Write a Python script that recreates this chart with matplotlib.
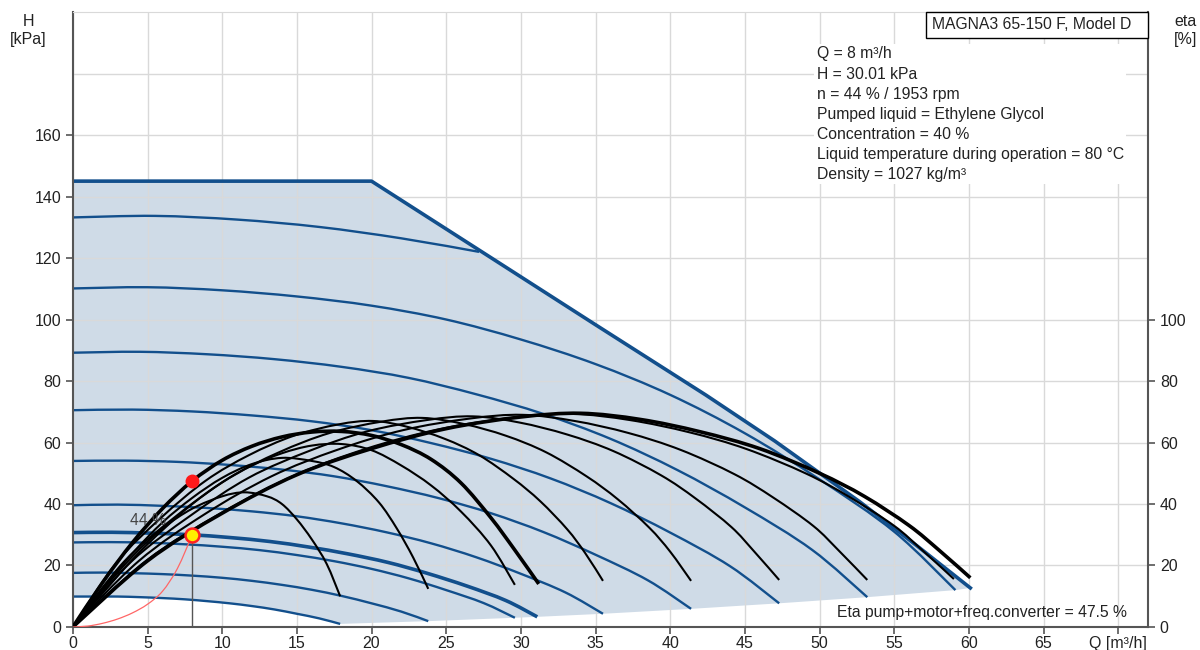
import matplotlib
matplotlib.use("Agg")
import matplotlib.pyplot as plt
from matplotlib.patches import Rectangle, PathPatch
from matplotlib.path import Path

plt.rcParams['font.family'] = ['Liberation Sans', 'DejaVu Sans']

# pump speed curves (H in kPa), lowest to highest speed
speed_q = [
    [0, 1.5, 3, 4.5, 6, 7.5, 9, 10.5, 12, 13.5, 15, 16.5, 17.9],
    [0, 2, 4, 6, 8, 10, 12, 14, 16, 18, 20, 22, 23.8],
    [0, 2.5, 5, 7.5, 10, 12.5, 15, 17.5, 20, 22.5, 25, 27.5, 29.6],
    [0, 2.6, 5.3, 7.9, 10.5, 13.2, 15.8, 18.4, 21.1, 23.7, 26.4, 29.0, 31.1],
    [0, 3, 6, 9, 12, 15, 18, 21, 24, 27, 30, 33, 35.5],
    [0, 3.5, 7, 10.5, 14, 17.5, 21, 24.5, 28, 31.5, 35, 38.5, 41.4],
    [0, 4, 8, 12, 16, 20, 24, 28, 32, 36, 40, 44, 47.3],
    [0, 4.5, 9, 13.5, 18, 22.5, 27, 31.5, 36, 40.5, 45, 49.5, 53.2],
    [0, 5, 10, 15, 20, 25, 30, 35, 40, 45, 50, 55, 59.1],
    [0, 5.5, 11, 16.5, 22, 27.2],
]
speed_h = [
    [9.9, 9.9, 9.9, 9.7, 9.4, 9.0, 8.4, 7.7, 6.8, 5.7, 4.3, 2.8, 1.0],
    [17.6, 17.7, 17.5, 17.2, 16.7, 16.0, 15.0, 13.7, 12.1, 10.1, 7.7, 5.0, 1.9],
    [27.5, 27.6, 27.4, 26.9, 26.1, 25.0, 23.4, 21.4, 18.9, 15.8, 12.0, 7.8, 3.0],
    [30.7, 30.8, 30.5, 30.0, 29.1, 27.8, 26.0, 23.8, 21.0, 17.5, 13.3, 8.6, 3.3],
    [39.6, 39.8, 39.4, 38.7, 37.6, 36.0, 33.7, 30.8, 27.2, 22.7, 17.3, 11.2, 4.3],
    [54.0, 54.1, 53.7, 52.7, 51.2, 49.0, 45.8, 41.9, 37.0, 30.9, 23.5, 15.2, 5.9],
    [70.5, 70.7, 70.1, 68.8, 66.9, 64.0, 59.8, 54.7, 48.3, 40.3, 30.7, 19.8, 7.7],
    [89.2, 89.5, 88.7, 87.1, 84.6, 81.0, 75.7, 69.3, 61.2, 51.0, 38.9, 25.1, 9.7],
    [110.1, 110.5, 109.5, 107.5, 104.5, 100.0, 93.5, 85.5, 75.5, 63.0, 48.0, 31.0, 12.0],
    [133.2, 133.7, 132.5, 130.1, 126.4, 122.0],
]
duty_curve = 3  # the 44 % curve

# max envelope
max_q = [0, 20, 27.2, 35, 42.4, 47, 52.7, 56.5, 60.1]
max_h = [145, 145, 122.6, 98.3, 75.4, 60.5, 40.7, 26.5, 12.7]

# efficiency curves (eta %), matching the speed curves + max curve
eta_q = [
    [0, 2, 4, 6, 8, 10, 11.5, 13, 14, 15, 16, 17, 17.9],
    [0, 2, 4, 6, 8, 10, 12, 14, 16, 17.5, 19, 20.5, 21.7, 22.8, 23.8],
    [0, 2, 4, 6, 8, 10, 12, 14, 16, 18, 20, 22, 24, 26, 28, 29.6],
    [0, 2, 4, 6, 8, 10, 12, 14, 16, 18, 20, 22, 24, 26, 28, 29.6, 31.2],
    [0, 2.9, 5.9, 8.9, 11.8, 14.8, 17.8, 20.1, 22.4, 24.9, 27.2, 29.5, 31.3, 33.1, 34.3, 35.5],
    [0, 3.4, 6.9, 10.4, 13.8, 17.2, 20.7, 23.4, 26.2, 29.0, 31.7, 34.4, 36.5, 38.6, 40.0, 41.4],
    [0, 3.9, 7.9, 11.8, 15.8, 19.7, 23.7, 26.8, 29.9, 33.1, 36.2, 39.4, 41.7, 44.1, 45.6, 47.3],
    [0, 4.4, 8.8, 13.3, 17.7, 22.1, 26.6, 30.1, 33.6, 37.2, 40.7, 44.3, 46.9, 49.6, 51.3, 53.2],
    [0, 4.9, 9.8, 14.8, 19.6, 24.5, 29.5, 33.4, 37.3, 41.3, 45.1, 49.1, 52.0, 55.0, 56.9, 59.0],
    [0, 5, 10, 15, 20, 25, 30, 34, 38, 42, 46, 50, 53, 56, 58, 60.1],
]
eta_v = [
    [0, 12, 23, 32, 38.5, 42.5, 43.8, 42.5, 40, 35, 28.5, 20.5, 10],
    [0, 12.5, 24, 34, 42, 48.5, 53, 55, 54, 52, 47.5, 40.5, 32, 22.5, 12.4],
    [0, 11, 22, 31.5, 40, 47, 52.5, 56.5, 59, 59.5, 57.5, 52.5, 46, 37.5, 26.5, 13.7],
    [0, 14.5, 27.5, 38.5, 47.5, 54.2, 58.8, 61.8, 63.4, 63.6, 62.3, 59.3, 54.5, 46.8, 35.5, 25, 14],
    [0, 20.8, 35.5, 47.6, 55.9, 62.2, 65.9, 67, 65.1, 61.2, 55.9, 48.2, 40.9, 31.8, 24.1, 15],
    [0, 21.1, 36.0, 48.3, 56.8, 63.1, 66.8, 68, 66.0, 62.2, 56.8, 49.0, 41.5, 32.3, 24.5, 15],
    [0, 21.2, 36.3, 48.6, 57.2, 63.6, 67.3, 68.5, 66.5, 62.6, 57.2, 49.3, 41.8, 32.5, 24.7, 15.3],
    [0, 21.4, 36.6, 49.0, 57.6, 64.0, 67.8, 69, 67.0, 63.1, 57.6, 49.7, 42.1, 32.8, 24.8, 15.3],
    [0, 21.5, 36.7, 49.2, 57.9, 64.3, 68.1, 69.3, 67.3, 63.3, 57.9, 49.9, 42.3, 32.9, 24.9, 15.6],
    [0, 21.5, 37, 49.5, 58, 64.5, 68.3, 69.5, 67.5, 63.5, 58, 50, 42.5, 33, 25, 16],
]
thick_eta = [3, 9]

# system curve through the duty point
sys_q = [0, 1, 2, 3, 4, 5, 6, 7, 8]
sys_h = [0, 0.3, 1.2, 2.6, 4.6, 7.4, 11.6, 19.0, 30.01]

duty_q, duty_h, duty_eta = 8, 30.01, 47.5

info_lines = [
    "Q = 8 m³/h",
    "H = 30.01 kPa",
    "n = 44 % / 1953 rpm",
    "Pumped liquid = Ethylene Glycol",
    "Concentration = 40 %",
    "Liquid temperature during operation = 80 °C",
    "Density = 1027 kg/m³",
]
title = "MAGNA3 65-150 F, Model D"
eta_note = "Eta pump+motor+freq.converter = 47.5 %"

blue = '#124f8c'
fill_c = '#cfdbe7'
grid_c = '#d9d9d9'
txt_c = '#222222'
fs = 11.3


def smooth_path(q, v):
    # catmull-rom through the read points, drawn as cubic bezier
    pts = list(zip(q, v))
    n = len(pts)
    verts = [pts[0]]
    codes = [Path.MOVETO]
    for i in range(n - 1):
        p0 = pts[i - 1] if i > 0 else pts[i]
        p1 = pts[i]
        p2 = pts[i + 1]
        p3 = pts[i + 2] if i + 2 < n else pts[i + 1]
        c1 = (p1[0] + (p2[0] - p0[0]) / 6, p1[1] + (p2[1] - p0[1]) / 6)
        c2 = (p2[0] - (p3[0] - p1[0]) / 6, p2[1] - (p3[1] - p1[1]) / 6)
        verts += [c1, c2, p2]
        codes += [Path.CURVE4] * 3
    return Path(verts, codes)


fig = plt.figure(figsize=(12, 6.5), dpi=100)
ax = fig.add_axes([0.0607, 0.0354, 0.8960, 0.9461])
ax.set_xlim(0, 72)
ax.set_ylim(0, 200)

# shaded operating area
ends_q = [q[-1] for q in speed_q[:-1]][::-1]
ends_h = [h[-1] for h in speed_h[:-1]][::-1]
poly_q = max_q + ends_q + speed_q[0][::-1]
poly_h = max_h + ends_h + speed_h[0][::-1]
ax.fill(poly_q, poly_h, color=fill_c, lw=0, zorder=0.2)

ax.set_axisbelow(True)
ax.set_xticks(range(0, 71, 5))
ax.set_yticks(range(0, 161, 20))
ax.grid(True, color=grid_c, lw=1.0)
ax.axhline(180, color=grid_c, lw=1.0, zorder=0.5)

for i, (q, h) in enumerate(zip(speed_q, speed_h)):
    ax.add_patch(PathPatch(smooth_path(q, h), fc='none', ec=blue,
                           lw=2.6 if i == duty_curve else 1.7, zorder=2))
ax.plot(max_q, max_h, color=blue, lw=2.6, zorder=2)

for i, (q, e) in enumerate(zip(eta_q, eta_v)):
    ax.add_patch(PathPatch(smooth_path(q, e), fc='none', ec='black',
                           lw=2.6 if i in thick_eta else 1.5, zorder=3))

ax.add_patch(PathPatch(smooth_path(sys_q, sys_h), fc='none', ec='#ff6666', lw=0.9, zorder=4))
ax.plot([duty_q, duty_q], [0, duty_h], color='#555555', lw=1.0, zorder=4)
ax.plot(duty_q, duty_eta, 'o', ms=9, mfc='#ff1a1a', mec='#ff1a1a', zorder=6)
ax.plot(duty_q, duty_h, 'o', ms=10, mfc='#ffee00', mec='#ff2222', mew=1.8, zorder=6)
ax.text(5, 34.5, "44 %", fontsize=fs, color='#444444', ha='center', va='center', zorder=5)

# info text
ax.text(49.8, 188.8, "\n".join(info_lines), fontsize=fs, color=txt_c, va='top', ha='left',
        linespacing=1.42, zorder=7,
        bbox=dict(boxstyle='square,pad=0.15', fc='white', ec='none'))
ax.add_patch(Rectangle((57.1, 191.5), 72 - 57.1, 8.5, fc='white', ec='black', lw=1.0,
                       zorder=8, clip_on=False))
ax.text(57.5, 195.8, title, fontsize=fs, color=txt_c, va='center', ha='left', zorder=9)
ax.text(70.6, 4.6, eta_note, fontsize=fs, color=txt_c, va='center', ha='right', zorder=7)

# axes styling
for s in ['left', 'bottom', 'right']:
    ax.spines[s].set_color('#555555')
    ax.spines[s].set_linewidth(1.5)
ax.spines['top'].set_color(grid_c)
xl = [str(v) for v in range(0, 70, 5)] + ["Q [m³/h]"]
ax.set_xticklabels(xl)
ax.tick_params(axis='both', colors='#555555', labelcolor=txt_c, labelsize=11.5, length=5, width=1.2)
ax.tick_params(axis='x', pad=1.5)

ax2 = ax.twinx()
ax2.set_ylim(0, 200)
ax2.set_yticks(range(0, 101, 20))
ax2.tick_params(axis='y', colors='#555555', labelcolor=txt_c, labelsize=11.5, length=5, width=1.2)
for s in ax2.spines.values():
    s.set_visible(False)

fig.text(0.0235, 0.953, "H\n[kPa]", fontsize=11.5, color=txt_c, ha='center', va='center', linespacing=1.25)
fig.text(0.988, 0.953, "eta\n[%]", fontsize=11.5, color=txt_c, ha='center', va='center', linespacing=1.25)

fig.savefig("out.png", dpi=100, facecolor='white')
